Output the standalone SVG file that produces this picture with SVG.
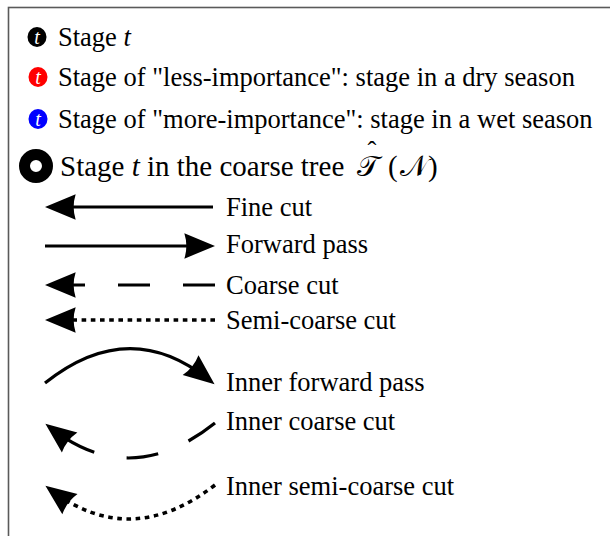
<svg xmlns="http://www.w3.org/2000/svg" width="610" height="536" viewBox="0 0 610 536">
<style>
  .lbl { font-family: "Liberation Serif", "Times New Roman", serif; font-size: 26.5px; fill: #000; }
  .big { font-size: 29px; }
  .it { font-style: italic; }
  .tin { font-family: "Liberation Serif", serif; font-style: italic; font-size: 20px; fill: #fff; text-anchor: middle; }
  .ln { fill: none; stroke: #000; stroke-width: 3.2; stroke-linecap: butt; }
  .coarse { stroke-dasharray: 32 33; }
  .semi { stroke-dasharray: 4.6 4.6; stroke-width: 3.6; }
</style>
<defs>
  <marker id="ah" markerUnits="userSpaceOnUse" markerWidth="40" markerHeight="40" viewBox="-20 -12 30 24" refX="0" refY="0" orient="auto" overflow="visible">
    <path d="M6,0 L-17,-9.5 Q-14,0 -17,9.5 Z" fill="#000"/>
  </marker>
</defs>
<rect x="8.5" y="7.5" width="700" height="700" fill="#fff" stroke="#5a5a5a" stroke-width="1.6"/>

<g id="legend-stage">
  <ellipse cx="37" cy="37" rx="9.5" ry="10" fill="#000"/>
  <text class="tin" x="37" y="44">t</text>
  <text class="lbl" x="58" y="46">Stage <tspan class="it">t</tspan></text>
</g>
<g id="legend-dry">
  <ellipse cx="38" cy="77" rx="9.5" ry="10" fill="#ff0000"/>
  <text class="tin" x="38" y="84">t</text>
  <text class="lbl" x="58" y="86">Stage of "less-importance": stage in a dry season</text>
</g>
<g id="legend-wet">
  <ellipse cx="38" cy="119" rx="9.5" ry="10" fill="#0000ff"/>
  <text class="tin" x="38" y="126">t</text>
  <text class="lbl" x="58" y="128">Stage of "more-importance": stage in a wet season</text>
</g>
<g id="legend-coarse-stage">
  <circle cx="36" cy="166" r="11.5" fill="none" stroke="#000" stroke-width="11"/>
  <text class="lbl big" x="60" y="176">Stage <tspan class="it">t</tspan> in the coarse tree <tspan x="357">𝒯</tspan><tspan x="388">(</tspan><tspan x="400">𝒩</tspan><tspan x="428">)</tspan></text>
  <text class="lbl" x="372" y="160" text-anchor="middle">ˆ</text>
</g>

<g id="connectors">
  <path class="ln" d="M213,207 L53,207" marker-end="url(#ah)"/>
  <path class="ln" d="M45,246 L207,246" marker-end="url(#ah)"/>
  <path class="ln coarse" d="M215,285 L53,285" marker-end="url(#ah)"/>
  <path class="ln semi" d="M215,320 L53,320" marker-end="url(#ah)"/>
  <path class="ln" d="M45,383 Q129,316 208.3,379.3" marker-end="url(#ah)"/>
  <path class="ln coarse" d="M215,423 Q131,490 51.7,428.7" marker-end="url(#ah)"/>
  <path class="ln semi" d="M215,485 Q131,550 51.8,490.6" marker-end="url(#ah)"/>
</g>

<g id="labels">
  <text class="lbl" x="226" y="216">Fine cut</text>
  <text class="lbl" x="226" y="253">Forward pass</text>
  <text class="lbl" x="226" y="294">Coarse cut</text>
  <text class="lbl" x="226" y="329">Semi-coarse cut</text>
  <text class="lbl" x="226" y="391">Inner forward pass</text>
  <text class="lbl" x="226" y="430">Inner coarse cut</text>
  <text class="lbl" x="226" y="495">Inner semi-coarse cut</text>
</g>
</svg>
